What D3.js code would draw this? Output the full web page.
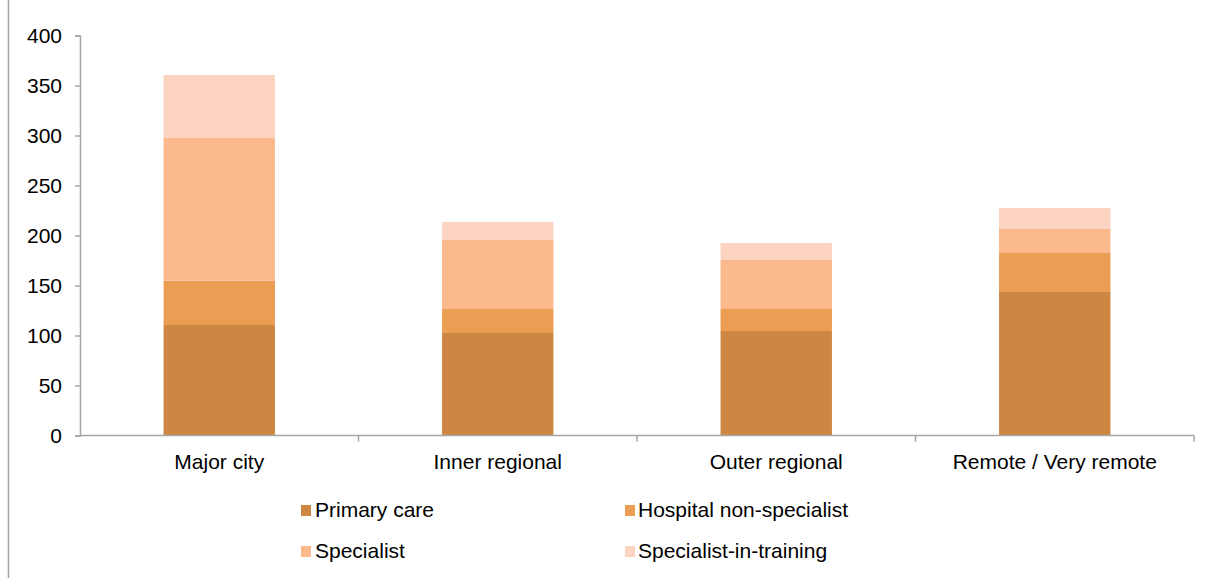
<!DOCTYPE html>
<html>
<head>
<meta charset="utf-8">
<script src="https://cdn.jsdelivr.net/npm/d3@7"></script>
<style>
  html, body { margin: 0; padding: 0; background: #fff; }
  svg { display: block; font-family: "Liberation Sans", Arial, sans-serif; }
</style>
</head>
<body>
<svg id="chart" width="1220" height="578"></svg>
<script>
// Regions along the x axis
const categories = ["Major city", "Inner regional", "Outer regional", "Remote / Very remote"];

// Stacked series, bottom to top
const seriesNames = ["Primary care", "Hospital non-specialist", "Specialist", "Specialist-in-training"];
const primaryCare = [110.5, 102.5, 104.5, 143.5];
const hospitalNonSpecialist = [44.3, 24, 22, 39];
const specialist = [142.7, 69, 49, 24];
const specialistInTraining = [63, 18, 17, 21];
const seriesColors = ["#cd8742", "#eb9d53", "#fbb98c", "#fdd4c2"];

// Y axis ticks
const yTicks = [0, 50, 100, 150, 200, 250, 300, 350, 400];

const rows = categories.map((c, i) => ({
  category: c,
  "Primary care": primaryCare[i],
  "Hospital non-specialist": hospitalNonSpecialist[i],
  "Specialist": specialist[i],
  "Specialist-in-training": specialistInTraining[i]
}));

const svg = d3.select("#chart");
const axisColor = "#a6a6a6";
const fontSize = 21;
const plot = { left: 80, right: 1194, top: 35.5, bottom: 435.5 };

// Outer frame edge on the left
svg.append("line")
  .attr("x1", 8.5).attr("x2", 8.5)
  .attr("y1", 0).attr("y2", 578)
  .attr("stroke", axisColor).attr("stroke-width", 1.5);

const x = d3.scaleBand()
  .domain(categories)
  .range([plot.left, plot.right])
  .paddingInner(0.6)
  .paddingOuter(0.3);

const y = d3.scaleLinear()
  .domain([0, 400])
  .range([plot.bottom, plot.top]);

const stacked = d3.stack().keys(seriesNames)(rows);

// Bars
svg.append("g")
  .selectAll("g")
  .data(stacked)
  .join("g")
  .attr("fill", (d, i) => seriesColors[i])
  .selectAll("rect")
  .data(d => d)
  .join("rect")
  .attr("x", d => x(d.data.category))
  .attr("width", x.bandwidth())
  .attr("y", d => y(d[1]))
  .attr("height", d => y(d[0]) - y(d[1]));

// Y axis
const yAxis = svg.append("g")
  .attr("transform", `translate(${plot.left},0)`)
  .call(d3.axisLeft(y).tickValues(yTicks).tickSize(5).tickPadding(13).tickFormat(d3.format("d")));
yAxis.select(".domain").attr("stroke", axisColor).attr("stroke-width", 1.5);
yAxis.selectAll(".tick line").attr("stroke", axisColor).attr("stroke-width", 1.5);
yAxis.selectAll(".tick text").attr("font-size", fontSize).attr("fill", "#000")
  .attr("font-family", "Liberation Sans, Arial, sans-serif");

// X axis with tick marks at the category boundaries
const step = x.step();
const xAxisG = svg.append("g");
xAxisG.append("line")
  .attr("x1", plot.left).attr("x2", plot.right)
  .attr("y1", plot.bottom).attr("y2", plot.bottom)
  .attr("stroke", axisColor).attr("stroke-width", 1.5);
xAxisG.selectAll("line.tick")
  .data(categories)
  .join("line")
  .attr("class", "tick")
  .attr("x1", d => x(d) + x.bandwidth() + step * x.paddingInner() / 2)
  .attr("x2", d => x(d) + x.bandwidth() + step * x.paddingInner() / 2)
  .attr("y1", plot.bottom).attr("y2", plot.bottom + 6)
  .attr("stroke", axisColor).attr("stroke-width", 1.5);
xAxisG.selectAll("text")
  .data(categories)
  .join("text")
  .attr("x", d => x(d) + x.bandwidth() / 2)
  .attr("y", 469)
  .attr("text-anchor", "middle")
  .attr("font-size", fontSize)
  .attr("fill", "#000")
  .text(d => d);

// Legend, two columns
const legendPos = [[301, 505, 315], [625, 505, 638], [301, 546, 315], [625, 546, 638]];
const legend = svg.append("g");
seriesNames.forEach((name, i) => {
  const [sx, sy, tx] = legendPos[i];
  legend.append("rect")
    .attr("x", sx).attr("y", sy)
    .attr("width", 10).attr("height", 11)
    .attr("fill", seriesColors[i]);
  legend.append("text")
    .attr("x", tx).attr("y", sy + 12)
    .attr("font-size", fontSize)
    .attr("fill", "#000")
    .text(name);
});
</script>
</body>
</html>
